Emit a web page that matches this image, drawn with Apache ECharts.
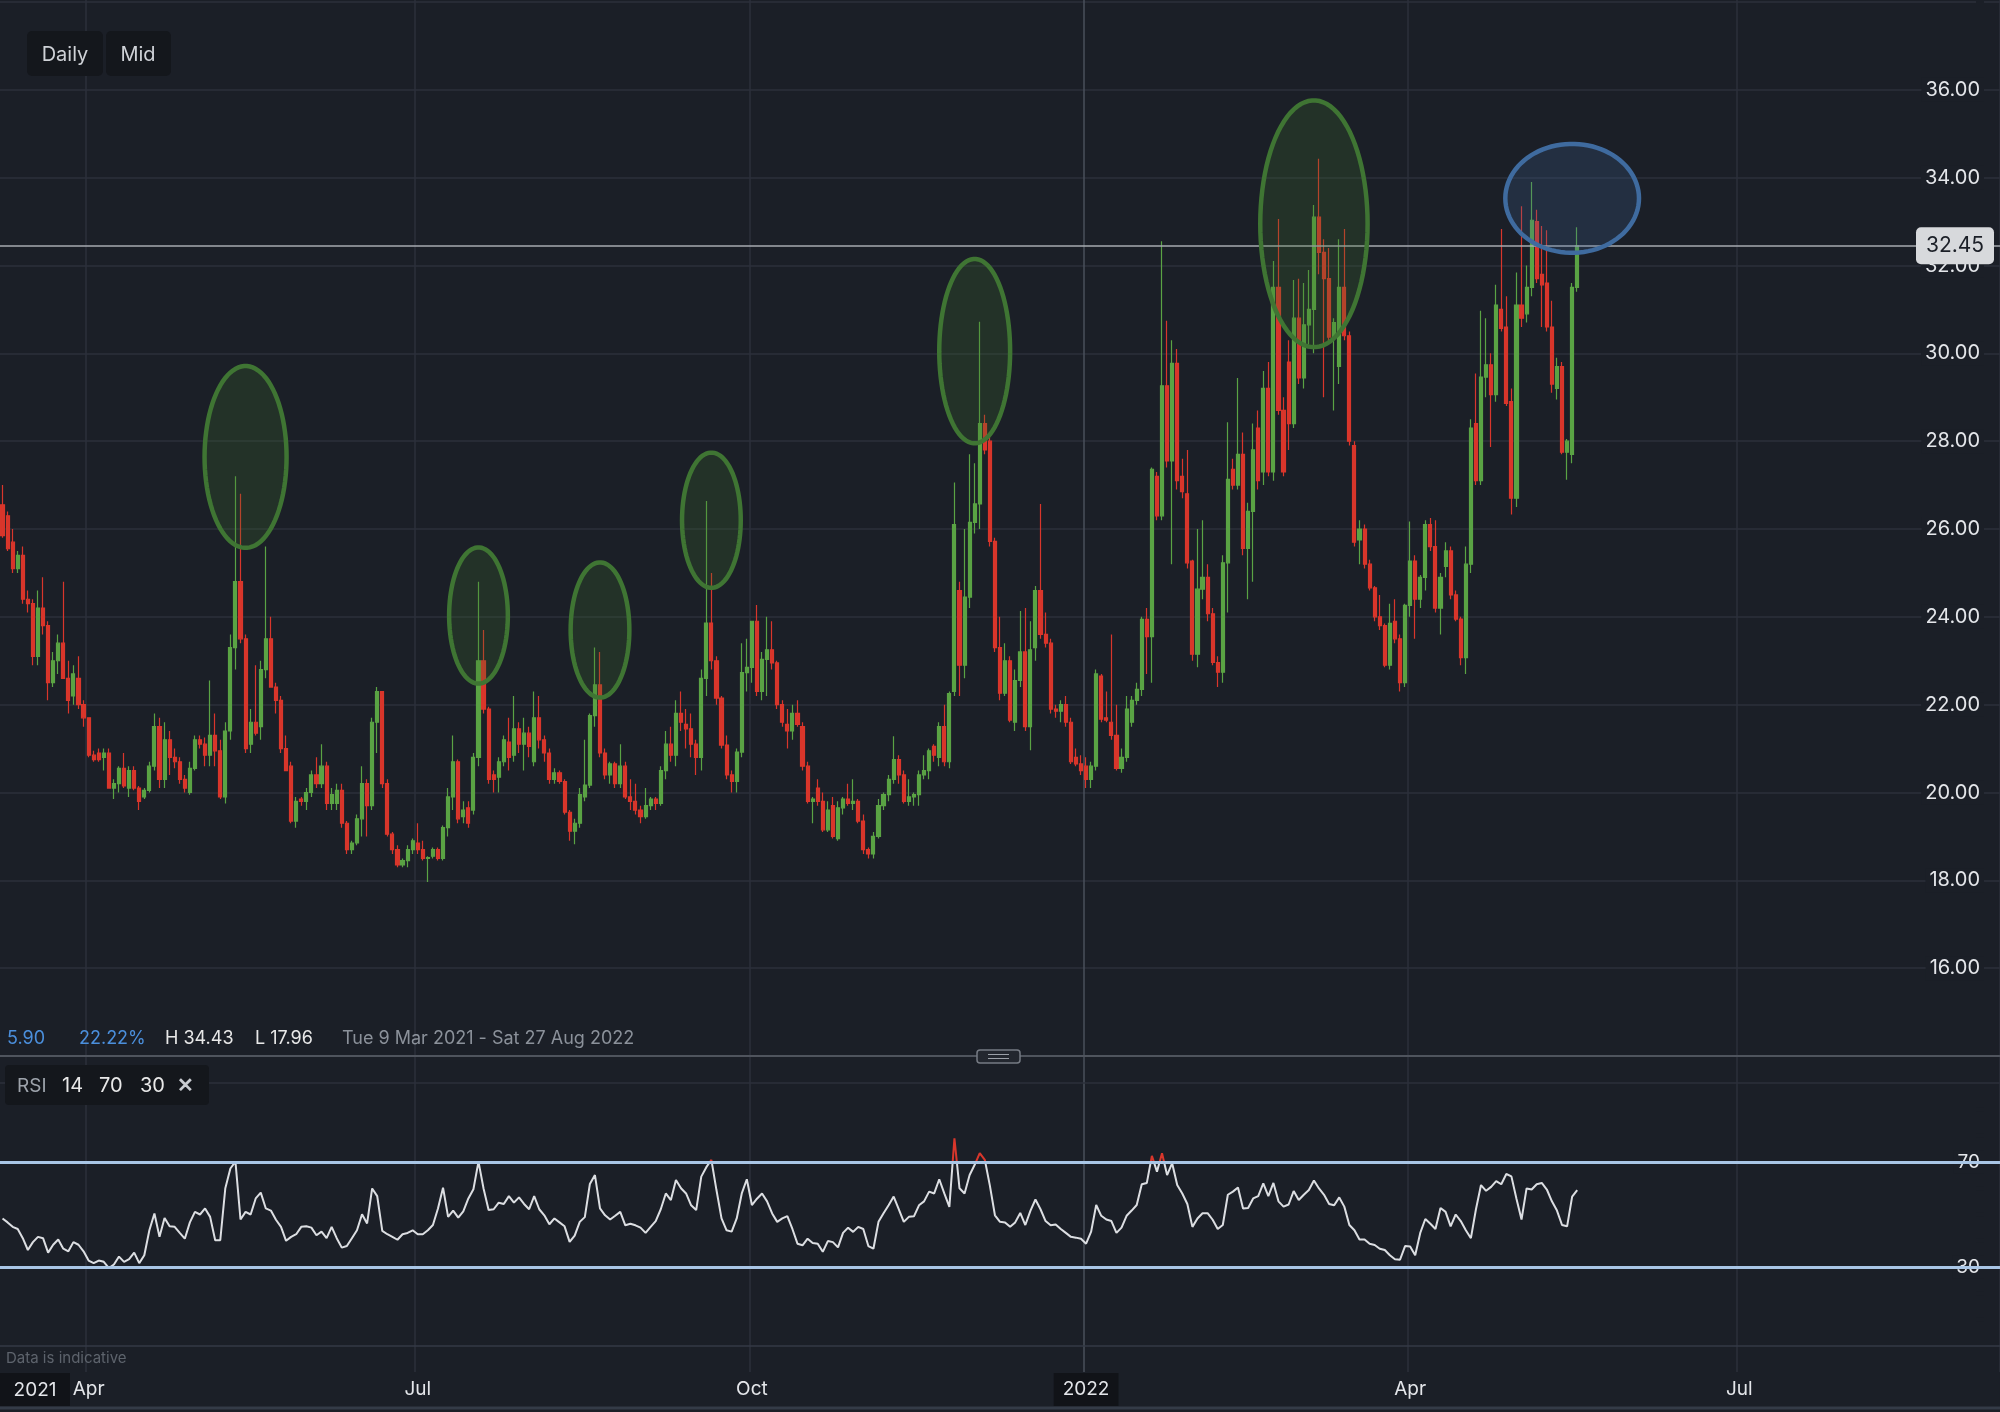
<!DOCTYPE html>
<html>
<head>
<meta charset="utf-8">
<title>Daily Mid - RSI</title>
<script src="https://cdn.jsdelivr.net/npm/echarts@6/dist/echarts.min.js"></script>
<style>
  html, body { margin: 0; padding: 0; background: #1b1f27; }
  #chart { width: 2000px; height: 1412px; }
</style>
</head>
<body>
<div id="chart"></div>
<script>
// one candle per weekday, first one is Tue 9 Mar 2021
const startDate = '2021-03-09';
const totalSlots = 395; // weekdays on the axis, the tail is empty future space

const opens = [
  26.55, 26.3, 25.7, 25.1, 25.4, 24.4, 24.3, 23.1, 24.2, 23.8,
  22.5, 23.0, 23.4, 22.6, 22.2, 22.6, 22.0, 21.7, 20.85, 20.9,
  20.8, 20.9, 20.1, 20.2, 20.55, 20.1, 20.5, 20.1, 19.9, 20.05,
  20.6, 21.5, 20.3, 21.2, 20.8, 20.7, 20.3, 20.0, 20.55, 21.2,
  21.1, 20.85, 21.3, 20.95, 19.9, 21.4, 23.3, 24.8, 23.5, 21.1,
  21.6, 21.5, 22.8, 23.5, 22.4, 22.1, 21.0, 20.6, 19.35, 19.85,
  19.8, 20.0, 20.4, 20.2, 20.6, 19.75, 19.75, 20.05, 19.3, 18.7,
  18.85, 19.4, 20.2, 19.7, 21.6, 22.3, 20.2, 19.05, 18.7, 18.35,
  18.45, 18.7, 18.85, 18.7, 18.5, 18.55, 18.7, 18.5, 19.2, 19.9,
  20.7, 19.45, 19.65, 19.6, 20.8, 23.0, 21.9, 20.4, 20.35, 20.7,
  21.15, 20.85, 21.45, 21.1, 21.35, 20.7, 21.7, 21.2, 20.9, 20.3,
  20.45, 20.25, 19.55, 19.12, 19.3, 19.9, 20.17, 21.75, 22.45, 20.9,
  20.4, 20.65, 20.2, 20.6, 19.9, 19.8, 19.6, 19.45, 19.7, 19.85,
  19.75, 20.5, 21.1, 20.85, 21.8, 21.55, 21.45, 21.1, 20.8, 22.6,
  23.86, 23.0, 22.15, 21.08, 20.4, 20.25, 20.92, 22.73, 22.85, 23.9,
  22.3, 23.03, 23.25, 22.95, 22.0, 21.55, 21.4, 21.8, 21.5, 20.6,
  19.8, 20.1, 19.8, 19.15, 19.7, 18.95, 19.65, 19.85, 19.75, 19.8,
  19.35, 18.7, 18.6, 19.0, 19.7, 19.95, 20.3, 20.75, 20.4, 19.8,
  19.9, 19.95, 20.4, 20.5, 21.05, 20.8, 21.5, 20.7, 22.3, 24.6,
  22.9, 24.45, 26.15, 26.57, 28.4, 28.0, 25.72, 23.3, 22.26, 23.0,
  21.6, 22.55, 23.2, 21.5, 23.3, 24.6, 23.6, 23.4, 21.9, 21.85,
  22.0, 21.6, 20.8, 20.65, 20.6, 20.3, 20.6, 22.65, 21.7, 21.6,
  21.3, 20.55, 20.8, 21.6, 22.1, 22.35, 23.94, 23.55, 27.2, 26.3,
  29.26, 27.55, 29.77, 27.2, 26.8, 25.27, 23.15, 24.63, 24.9, 24.07,
  22.96, 22.74, 25.23, 27.36, 27.0, 27.7, 25.56, 26.4, 28.3, 27.3,
  29.2, 27.3, 31.5, 28.7, 29.8, 28.4, 30.8, 29.44, 30.65, 31.0,
  33.1, 32.3, 31.7, 30.37, 29.7, 31.5, 30.4, 27.9, 25.75, 26.0,
  25.2, 24.66, 24.0, 23.8, 22.9, 23.9, 23.5, 22.5, 24.26, 25.27,
  24.4, 24.9, 26.1, 25.6, 24.2, 25.15, 25.5, 24.5, 23.95, 23.07,
  25.2, 28.4, 27.1, 29.46, 29.74, 29.06, 31.0, 30.6, 28.9, 26.7,
  31.1, 30.9, 31.5, 33.0, 31.8, 31.6, 30.6, 29.2, 29.7, 27.75,
  27.7, 31.5
];
const highs = [
  27.0, 26.4, 26.0, 25.5, 25.6, 24.6, 24.4, 24.6, 24.9, 23.9,
  23.2, 23.6, 24.8, 23.0, 22.9, 23.1, 22.1, 21.7, 20.95, 21.0,
  21.0, 21.0, 20.3, 20.6, 20.9, 20.6, 20.6, 20.15, 20.1, 20.7,
  21.8, 21.7, 21.6, 21.4, 21.0, 20.8, 20.4, 20.7, 21.3, 21.3,
  21.25, 22.55, 21.8, 21.2, 21.6, 23.6, 27.2, 26.8, 23.6, 21.9,
  22.9, 23.0, 25.6, 24.0, 22.5, 22.2, 21.3, 20.7, 19.9, 19.9,
  20.1, 20.5, 20.8, 21.1, 20.7, 20.1, 20.2, 20.2, 19.35, 18.9,
  19.5, 20.6, 20.3, 21.7, 22.4, 22.3, 20.3, 19.1, 18.8, 18.5,
  18.8, 18.95, 19.3, 18.9, 18.55, 18.75, 18.75, 19.25, 20.1, 21.3,
  20.75, 19.8, 19.8, 20.9, 24.8, 23.7, 21.95, 20.5, 20.8, 21.3,
  21.7, 22.2, 21.6, 21.7, 21.5, 22.3, 22.2, 21.3, 21.0, 20.55,
  20.5, 20.3, 19.6, 19.4, 20.1, 21.2, 21.8, 23.3, 23.2, 21.0,
  20.7, 20.7, 21.1, 20.7, 20.3, 20.2, 19.7, 20.1, 19.9, 19.9,
  20.6, 21.4, 21.5, 22.1, 22.3, 21.9, 21.8, 21.2, 22.8, 26.64,
  25.0, 23.1, 22.2, 21.3, 20.5, 21.0, 23.4, 23.5, 23.9, 24.27,
  23.2, 24.0, 23.9, 23.0, 22.1, 21.9, 22.0, 22.1, 21.6, 20.7,
  19.9, 20.3, 20.0, 19.8, 19.9, 19.8, 19.9, 20.2, 20.3, 19.85,
  19.5, 18.75, 19.1, 19.85, 20.0, 20.4, 21.28, 20.85, 20.5, 20.3,
  20.0, 20.5, 20.85, 21.0, 21.1, 21.6, 22.0, 22.3, 27.06, 24.8,
  26.0, 27.7, 27.5, 30.72, 28.6, 28.1, 25.8, 24.0, 23.4, 23.1,
  22.8, 24.13, 24.2, 23.9, 24.7, 26.57, 24.1, 23.5, 22.0, 22.1,
  22.2, 21.7, 21.0, 20.85, 20.8, 20.7, 22.8, 22.7, 22.3, 23.6,
  22.0, 21.0, 22.2, 22.2, 22.5, 24.0, 24.2, 27.4, 27.3, 32.55,
  30.74, 30.3, 30.1, 27.6, 27.8, 25.3, 26.0, 26.2, 25.2, 24.2,
  23.1, 25.4, 28.43, 27.6, 29.44, 28.2, 26.6, 28.4, 28.7, 29.6,
  29.8, 32.1, 33.06, 29.0, 30.3, 31.67, 31.7, 31.6, 31.9, 33.38,
  34.43, 32.6, 32.4, 30.8, 32.6, 32.83, 30.5, 28.0, 26.2, 26.1,
  25.3, 24.7, 24.5, 23.85, 24.3, 24.4, 23.6, 24.3, 26.17, 25.4,
  24.95, 26.2, 26.25, 26.2, 25.0, 25.7, 25.6, 24.6, 24.0, 25.6,
  28.5, 29.54, 30.97, 30.8, 30.0, 31.56, 32.83, 31.3, 29.2, 31.84,
  33.35, 32.0, 33.9, 33.27, 32.9, 32.8, 31.2, 29.9, 29.8, 28.05,
  31.6, 32.87
];
const lows = [
  25.8, 25.5, 25.0, 25.0, 24.3, 24.1, 22.9, 22.9, 23.6, 22.1,
  22.4, 22.7, 22.6, 21.8, 22.0, 21.9, 21.5, 20.8, 20.7, 20.7,
  20.5, 20.1, 19.85, 20.0, 20.1, 19.9, 20.05, 19.6, 19.85, 20.0,
  20.5, 20.1, 20.1, 20.4, 20.55, 20.2, 20.0, 19.95, 20.5, 21.0,
  20.6, 20.6, 20.6, 19.85, 19.75, 21.2, 22.8, 23.4, 20.9, 20.9,
  21.3, 21.2, 22.6, 22.4, 21.8, 20.9, 20.5, 19.3, 19.2, 19.7,
  19.6, 19.9, 20.1, 20.1, 19.6, 19.6, 19.6, 19.2, 18.6, 18.6,
  18.8, 19.0, 19.0, 19.6, 20.9, 20.1, 19.0, 18.6, 18.3, 18.3,
  18.3, 18.6, 18.6, 18.45, 17.96, 18.5, 18.45, 18.45, 19.0, 19.6,
  19.3, 19.3, 19.2, 19.5, 20.6, 21.8, 20.2, 20.0, 20.0, 20.6,
  20.5, 20.7, 20.9, 20.5, 20.8, 20.6, 21.0, 20.7, 20.2, 20.2,
  20.2, 19.5, 18.9, 18.82, 19.2, 19.8, 20.1, 21.5, 20.8, 20.3,
  20.2, 20.1, 20.1, 19.85, 19.6, 19.5, 19.3, 19.4, 19.6, 19.6,
  19.7, 20.3, 20.7, 20.6, 21.4, 21.0, 20.8, 20.4, 20.5, 22.2,
  22.8, 22.0, 21.0, 20.3, 20.0, 20.0, 20.8, 22.3, 22.5, 22.2,
  22.1, 22.2, 22.8, 21.9, 21.5, 21.0, 21.2, 21.5, 20.5, 19.75,
  19.3, 19.7, 19.1, 19.1, 18.95, 18.9, 19.5, 19.7, 19.6, 19.3,
  18.6, 18.5, 18.5, 18.95, 19.6, 19.8, 20.2, 20.2, 19.75, 19.7,
  19.7, 19.7, 20.3, 20.3, 20.7, 20.6, 20.6, 20.55, 22.2, 22.2,
  22.6, 24.2, 25.9, 26.0, 27.7, 25.6, 23.2, 22.1, 22.2, 21.6,
  21.4, 22.4, 21.4, 20.96, 23.0, 23.5, 23.3, 21.8, 21.7, 21.6,
  21.5, 20.65, 20.6, 20.4, 20.1, 20.1, 20.5, 21.6, 21.6, 21.2,
  20.5, 20.45, 20.7, 21.5, 22.0, 22.2, 22.7, 22.5, 26.2, 26.2,
  27.4, 25.2, 26.9, 26.7, 25.1, 23.0, 22.85, 24.4, 23.9, 22.9,
  22.4, 22.5, 24.1, 26.9, 26.9, 25.4, 24.4, 24.8, 26.9, 27.0,
  27.2, 27.1, 28.6, 27.2, 27.8, 28.3, 29.3, 29.2, 30.2, 30.0,
  31.8, 29.0, 30.2, 28.7, 29.3, 30.3, 27.9, 25.6, 25.2, 25.1,
  24.6, 23.9, 23.7, 22.85, 22.8, 23.4, 22.3, 22.4, 24.0, 23.5,
  24.2, 24.6, 25.5, 24.1, 23.6, 24.9, 24.4, 23.9, 22.9, 22.7,
  25.0, 27.0, 27.0, 29.0, 27.87, 28.9, 30.5, 28.8, 26.33, 26.5,
  30.6, 30.7, 31.3, 31.6, 30.6, 30.5, 29.1, 28.95, 27.7, 27.12,
  27.5, 31.4
];
const closes = [
  25.85, 25.55, 25.1, 25.4, 24.4, 24.3, 23.1, 24.2, 23.8, 22.5,
  23.0, 23.4, 22.6, 22.1, 22.7, 22.0, 21.7, 20.85, 20.75, 20.75,
  20.9, 20.1, 20.2, 20.55, 20.15, 20.5, 20.1, 19.8, 20.05, 20.6,
  21.5, 20.3, 21.2, 20.8, 20.7, 20.3, 20.1, 20.55, 21.2, 21.1,
  20.85, 21.3, 20.95, 19.9, 21.4, 23.3, 24.8, 23.5, 21.0, 21.6,
  21.35, 22.8, 23.5, 22.4, 22.1, 21.0, 20.5, 19.35, 19.8, 19.8,
  20.0, 20.4, 20.2, 20.6, 19.75, 19.95, 20.05, 19.3, 18.7, 18.85,
  19.4, 20.2, 19.7, 21.6, 22.3, 20.2, 19.05, 18.7, 18.35, 18.45,
  18.7, 18.9, 18.7, 18.5, 18.52, 18.7, 18.5, 19.2, 19.9, 20.7,
  19.4, 19.6, 19.3, 20.8, 23.0, 21.9, 20.3, 20.3, 20.7, 21.2,
  20.8, 21.45, 21.1, 21.35, 21.05, 21.7, 21.2, 20.9, 20.3, 20.45,
  20.25, 19.55, 19.12, 19.3, 19.95, 20.17, 21.75, 22.45, 20.9, 20.4,
  20.65, 20.2, 20.6, 19.9, 19.8, 19.6, 19.45, 19.7, 19.85, 19.75,
  20.5, 21.1, 20.85, 21.8, 21.6, 21.45, 21.1, 20.8, 22.6, 23.86,
  23.0, 22.15, 21.08, 20.4, 20.25, 20.92, 22.73, 22.85, 23.9, 22.3,
  23.03, 23.25, 22.95, 22.0, 21.6, 21.4, 21.8, 21.55, 20.6, 19.8,
  19.85, 19.8, 19.15, 19.6, 19.0, 19.65, 19.85, 19.75, 19.8, 19.35,
  18.7, 18.6, 19.0, 19.7, 19.95, 20.3, 20.75, 20.4, 19.8, 19.9,
  19.95, 20.4, 20.5, 20.95, 20.85, 21.5, 20.7, 22.25, 26.1, 22.9,
  24.45, 26.15, 26.57, 28.4, 27.8, 25.72, 23.3, 22.26, 23.0, 21.65,
  22.55, 23.2, 21.5, 23.25, 24.6, 23.6, 23.4, 21.9, 21.85, 22.0,
  21.6, 20.7, 20.65, 20.5, 20.3, 20.6, 22.7, 21.67, 21.65, 21.3,
  20.55, 20.8, 21.9, 22.1, 22.35, 23.94, 23.55, 27.36, 26.3, 29.26,
  27.55, 29.77, 27.1, 26.85, 25.23, 23.15, 24.63, 24.9, 24.07, 22.96,
  22.74, 25.23, 27.13, 27.0, 27.7, 25.56, 26.4, 27.8, 27.1, 29.2,
  27.3, 31.5, 28.7, 27.3, 28.4, 30.8, 29.44, 30.65, 31.0, 33.1,
  32.3, 31.7, 30.37, 30.7, 31.5, 30.4, 28.0, 25.7, 26.0, 25.2,
  24.66, 24.0, 23.8, 22.9, 23.85, 23.5, 22.5, 24.26, 25.27, 24.4,
  24.9, 26.1, 25.6, 24.2, 24.9, 25.5, 24.5, 23.95, 23.07, 25.2,
  28.3, 27.1, 29.46, 29.74, 29.06, 31.1, 30.57, 28.86, 26.7, 31.1,
  30.8, 31.5, 33.03, 31.7, 31.56, 30.6, 29.3, 29.7, 27.75, 28.0,
  31.5, 32.45
];
const rsiValues = [
  48.5, 47.0, 45.3, 44.5, 41.0, 36.5, 39.5, 41.5, 41.0, 35.5,
  38.5, 40.5, 37.0, 36.0, 39.5, 38.5, 36.0, 32.5, 31.5, 32.5,
  32.0, 29.6, 31.0, 34.0, 32.0, 33.0, 35.5, 31.5, 34.5, 44.0,
  50.4, 41.5, 48.7, 45.5, 45.3, 43.0, 40.8, 47.0, 51.0, 50.0,
  52.3, 49.1, 40.2, 40.2, 60.0, 67.5, 70.1, 48.1, 51.0, 50.0,
  56.1, 58.3, 52.3, 51.5, 48.0, 45.3, 40.0, 41.5, 42.5, 45.3,
  45.5, 45.0, 42.1, 43.5, 41.0, 45.3, 41.0, 37.4, 38.0, 41.0,
  44.0, 50.1, 46.6, 59.9, 57.0, 43.8, 42.5, 41.5, 40.4, 42.5,
  43.0, 44.0, 42.5, 42.5, 44.0, 46.0, 52.3, 60.2, 49.1, 51.5,
  48.8, 51.2, 56.1, 59.6, 70.1, 59.9, 51.7, 52.0, 54.5, 54.0,
  57.0, 54.5, 56.5, 54.0, 52.0, 57.0, 52.0, 49.7, 46.3, 48.5,
  47.0, 45.5, 39.6, 42.0, 47.2, 49.0, 61.6, 65.0, 52.3, 49.7,
  48.1, 49.5, 51.0, 45.9, 46.5, 45.9, 45.0, 43.0, 45.3, 47.5,
  52.0, 58.0, 55.5, 63.1, 60.0, 58.0, 53.5, 51.7, 64.4, 68.0,
  70.8, 59.3, 48.5, 44.0, 43.5, 48.5, 58.0, 63.4, 53.6, 56.0,
  58.0, 55.0, 50.4, 47.2, 48.5, 49.4, 44.5, 38.9, 38.3, 40.8,
  39.2, 38.9, 35.8, 39.9, 39.5, 37.5, 43.0, 45.0, 43.4, 45.3,
  44.5, 38.0, 37.0, 47.2, 50.5, 53.5, 56.8, 52.0, 47.2, 49.1,
  49.3, 53.5, 55.0, 58.7, 58.0, 63.4, 58.0, 52.9, 79.0, 60.0,
  58.0, 65.0, 68.9, 73.3, 70.8, 61.0, 49.7, 47.2, 47.0, 45.3,
  47.0, 50.6, 46.0, 51.4, 55.7, 52.0, 47.5, 45.9, 46.2, 44.5,
  43.0, 41.5, 41.2, 40.8, 38.9, 43.5, 53.6, 49.5, 48.1, 47.5,
  43.0, 45.0, 49.5, 51.5, 53.6, 61.5, 62.0, 72.3, 66.3, 73.3,
  65.0, 69.5, 61.2, 58.0, 54.0, 45.3, 48.5, 50.5, 50.5, 48.0,
  44.5, 46.0, 57.5, 58.7, 60.3, 52.3, 52.5, 56.1, 57.0, 61.8,
  57.0, 62.0, 55.0, 53.0, 53.8, 58.9, 55.5, 57.5, 59.3, 62.9,
  59.9, 57.5, 54.0, 53.5, 56.5, 53.0, 46.0, 44.0, 40.5, 40.5,
  38.9, 38.4, 37.0, 36.5, 34.5, 33.0, 32.8, 38.0, 37.8, 34.5,
  43.0, 48.3, 46.5, 44.5, 52.5, 51.0, 45.5, 50.0, 47.5, 44.0,
  41.0, 52.0, 61.2, 59.0, 60.5, 62.7, 61.5, 65.4, 64.5, 56.0,
  48.1, 59.9, 59.5, 61.5, 62.0, 59.5, 55.0, 51.5, 46.0, 45.5,
  56.8, 59.3
];
const rsiBands = [30, 70];
const monthNames = ['Jan', 'Feb', 'Mar', 'Apr', 'May', 'Jun', 'Jul', 'Aug', 'Sep', 'Oct', 'Nov', 'Dec'];

// circled spikes: [candle index, price, half width in candles, half height in price]
const greenCircles = [
  [48, 27.64, 8.1, 2.07],
  [94, 24.03, 5.8, 1.55],
  [118, 23.7, 5.8, 1.54],
  [140, 26.2, 5.8, 1.54],
  [192, 30.05, 7.0, 2.1],
  [259, 32.95, 10.6, 2.81]
];
const blueCircles = [
  [310, 33.53, 13.2, 1.24]
];

const BG = '#1b1f27';
const GRID_LINE = '#2c313b';
const UP = '#5aa344';
const DOWN = '#d9362b';
const TEXT = '#e4e6ea';
const FONT = 'Inter, "Noto Sans", sans-serif';

// weekday categories
const dates = [];
let day = new Date(startDate + 'T00:00:00Z');
while (dates.length < totalSlots) {
    const wd = day.getUTCDay();
    if (wd !== 0 && wd !== 6) dates.push(day.toISOString().slice(0, 10));
    day.setUTCDate(day.getUTCDate() + 1);
}
function monthOf(i) { return +dates[i].slice(5, 7) - 1; }
function isQuarterStart(i) {
    if (i === 0) return false;
    const m = monthOf(i);
    return m !== monthOf(i - 1) && m % 3 === 0;
}

const candleData = opens.map((o, i) => [o, closes[i], lows[i], highs[i]]);
const circleData = greenCircles.map(c => c.concat(0)).concat(blueCircles.map(c => c.concat(1)));

function renderCircle(params, api) {
    const c = api.coord([api.value(0), api.value(1)]);
    const band = api.size([1, 0])[0];
    const rx = api.value(2) * band;
    const ry = api.size([0, api.value(3)])[1];
    const pts = [];
    for (let k = 0; k < 90; k++) {
        const a = k / 90 * Math.PI * 2;
        pts.push([c[0] + rx * Math.cos(a), c[1] + ry * Math.sin(a)]);
    }
    const blue = api.value(4) === 1;
    return {
        type: 'polygon',
        shape: { points: pts },
        style: {
            fill: blue ? 'rgba(62,105,160,0.22)' : 'rgba(62,112,48,0.24)',
            stroke: blue ? '#3f6b9f' : '#3f7533',
            lineWidth: 4.5
        }
    };
}

const chart = echarts.init(document.getElementById('chart'));

const option = {
    backgroundColor: BG,
    animation: false,
    textStyle: { fontFamily: FONT },
    grid: [
        { left: -3, right: 0, top: 0, height: 1056 },
        { left: -3, right: 0, top: 1083, height: 263 },
        { left: -3, right: 0, top: 0, height: 1372 }
    ],
    xAxis: [
        {
            type: 'category', gridIndex: 0, data: dates,
            axisLine: { show: false }, axisTick: { show: false },
            axisLabel: { show: false }, splitLine: { show: false }
        },
        {
            type: 'category', gridIndex: 1, data: dates,
            axisLine: { show: false }, axisTick: { show: false }, splitLine: { show: false },
            axisLabel: {
                interval: (i) => isQuarterStart(i),
                margin: 27,
                formatter: function (value, i) {
                    if (!isQuarterStart(i)) return '';
                    const m = monthOf(i);
                    return m === 0 ? '{yr|' + value.slice(0, 4) + '}' : '{m|' + monthNames[m] + '}';
                },
                rich: {
                    yr: { backgroundColor: '#111318', padding: [7, 9, 7, 9], color: TEXT, fontSize: 19, fontFamily: FONT },
                    m: { padding: [7, 0, 7, 0], color: TEXT, fontSize: 19, fontFamily: FONT }
                }
            }
        },
        {
            type: 'category', gridIndex: 2, data: dates,
            axisLine: { show: false }, axisTick: { show: false }, axisLabel: { show: false },
            splitLine: {
                show: true,
                interval: (i) => isQuarterStart(i),
                lineStyle: {
                    color: [GRID_LINE, GRID_LINE, GRID_LINE, '#4a505b', GRID_LINE, GRID_LINE, GRID_LINE],
                    width: 1.5
                }
            }
        }
    ],
    yAxis: [
        {
            type: 'value', gridIndex: 0, position: 'right', min: 14, max: 38, interval: 2,
            axisLine: { show: false }, axisTick: { show: false },
            axisLabel: {
                inside: true, margin: 16, color: TEXT, fontSize: 20,
                backgroundColor: BG, padding: [2, 4],
                formatter: v => (v === 14 || v === 38) ? '' : v.toFixed(2)
            },
            splitLine: { lineStyle: { color: GRID_LINE, width: 1.5 } }
        },
        {
            type: 'value', gridIndex: 1, position: 'right', min: 0, max: 100, interval: 10,
            axisLine: { show: false }, axisTick: { show: false },
            axisLabel: {
                inside: true, margin: 16, color: TEXT, fontSize: 19,
                backgroundColor: BG, padding: [2, 4],
                formatter: v => rsiBands.indexOf(v) >= 0 ? String(v) : ''
            },
            splitLine: { show: false }
        },
        { type: 'value', gridIndex: 2, show: false, splitLine: { show: false } }
    ],
    visualMap: {
        type: 'piecewise', show: false, seriesIndex: 1, dimension: 1,
        pieces: [
            { lt: rsiBands[0], color: UP },
            { gte: rsiBands[0], lte: rsiBands[1], color: '#dcdee2' },
            { gt: rsiBands[1], color: DOWN }
        ]
    },
    series: [
        {
            type: 'candlestick', xAxisIndex: 0, yAxisIndex: 0,
            data: candleData,
            barWidth: 3.6,
            itemStyle: { color: UP, color0: DOWN, borderColor: UP, borderColor0: DOWN, borderWidth: 1.2 },
            markLine: {
                symbol: 'none', silent: true, animation: false,
                label: { show: false },
                lineStyle: { color: '#a7abb1', width: 1.5, type: 'solid' },
                data: [{ yAxis: closes[closes.length - 1] }]
            }
        },
        {
            type: 'line', xAxisIndex: 1, yAxisIndex: 1,
            data: rsiValues, showSymbol: false,
            lineStyle: { width: 2 },
            markLine: {
                symbol: 'none', silent: true, animation: false,
                label: { show: false },
                data: [
                    { yAxis: 100, lineStyle: { color: GRID_LINE, width: 1.5, type: 'solid' } },
                    { yAxis: 0, lineStyle: { color: '#343a46', width: 1.5, type: 'solid' } },
                    { yAxis: rsiBands[1], lineStyle: { color: '#a9c6e6', width: 3, type: 'solid' } },
                    { yAxis: rsiBands[0], lineStyle: { color: '#a9c6e6', width: 3, type: 'solid' } }
                ]
            }
        },
        {
            type: 'custom', xAxisIndex: 0, yAxisIndex: 0,
            data: circleData, renderItem: renderCircle, z: 5, silent: true
        }
    ]
};
chart.setOption(option);

// overlay texts and badges
const lastClose = closes[closes.length - 1];
const firstOpen = opens[0];
const change = lastClose - firstOpen;
const changePct = change / firstOpen * 100;
const rangeHigh = Math.max.apply(null, highs);
const rangeLow = Math.min.apply(null, lows);
const tagY = chart.convertToPixel({ yAxisIndex: 0 }, lastClose);

function txt(x, y, text, color, size, align, weight) {
    return {
        type: 'text', x: x, y: y, z: 110,
        style: {
            text: text, fill: color, font: (weight || 'normal') + ' ' + size + 'px ' + FONT,
            textAlign: align || 'left', textVerticalAlign: 'middle'
        }
    };
}

chart.setOption({
    graphic: [
        // Daily / Mid buttons
        { type: 'rect', z: 100, shape: { x: 27, y: 31, width: 76, height: 45, r: 5 }, style: { fill: '#14171c' } },
        { type: 'rect', z: 100, shape: { x: 106, y: 31, width: 65, height: 45, r: 5 }, style: { fill: '#14171c' } },
        txt(65, 55, 'Daily', '#cfd2d7', 20, 'center'),
        txt(138, 55, 'Mid', '#cfd2d7', 20, 'center'),
        // info row
        txt(7, 1039, change.toFixed(2), '#4b8fdc', 18),
        txt(79, 1039, changePct.toFixed(2) + '%', '#4b8fdc', 18),
        txt(165, 1039, 'H ' + rangeHigh.toFixed(2), '#e8e8e8', 18),
        txt(255, 1039, 'L ' + rangeLow.toFixed(2), '#e8e8e8', 18),
        txt(342, 1039, 'Tue 9 Mar 2021 - Sat 27 Aug 2022', '#8b919a', 18),
        // panel separator and drag handle
        { type: 'line', z: 100, shape: { x1: 0, y1: 1056, x2: 2000, y2: 1056 }, style: { stroke: '#4f545d', lineWidth: 2 } },
        { type: 'rect', z: 101, shape: { x: 977, y: 1050, width: 43, height: 13, r: 3 }, style: { fill: '#23272f', stroke: '#767b84', lineWidth: 1.5 } },
        { type: 'line', z: 102, shape: { x1: 988, y1: 1054.5, x2: 1009, y2: 1054.5 }, style: { stroke: '#9ba0a8', lineWidth: 1 } },
        { type: 'line', z: 102, shape: { x1: 988, y1: 1058.5, x2: 1009, y2: 1058.5 }, style: { stroke: '#9ba0a8', lineWidth: 1 } },
        // RSI header
        { type: 'rect', z: 100, shape: { x: 5, y: 1065, width: 204, height: 40, r: 4 }, style: { fill: '#14171c' } },
        txt(17, 1086, 'RSI', '#9da3ab', 19),
        txt(62, 1086, '14', '#e8e8e8', 20),
        txt(99, 1086, '70', '#e8e8e8', 20),
        txt(140, 1086, '30', '#e8e8e8', 20),
        txt(177, 1086, '✕', '#c9ccd1', 20, 'left', 'bold'),
        // footer
        txt(6, 1358, 'Data is indicative', '#5d636c', 15),
        { type: 'rect', z: 100, shape: { x: 0, y: 1373, width: 70, height: 33 }, style: { fill: '#111318' } },
        txt(35, 1390, '2021', TEXT, 19, 'center'),
        { type: 'line', z: 100, shape: { x1: 0, y1: 1408, x2: 2000, y2: 1408 }, style: { stroke: '#343b47', lineWidth: 3 } },
        // last price tag
        { type: 'rect', z: 100, shape: { x: 1916, y: tagY - 18.5, width: 78, height: 37, r: 5 }, style: { fill: '#d7d9dc' } },
        txt(1955, tagY, lastClose.toFixed(2), '#1b1f27', 21, 'center')
    ]
});
</script>
</body>
</html>
